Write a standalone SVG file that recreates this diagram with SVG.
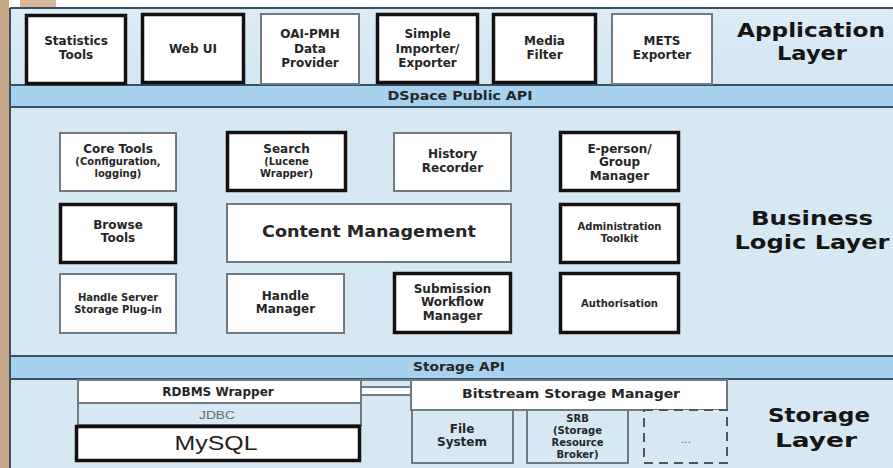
<svg xmlns="http://www.w3.org/2000/svg" width="893" height="468" viewBox="0 0 893 468">
<defs>
<style>
.bg{fill:#d5e8f4}
.bar{fill:#a8d1ee}
.frame{stroke:#3b4f5e;stroke-width:2;fill:none}
.thin{fill:#fff;stroke:#6f7a82;stroke-width:2}
.thinb{fill:#d5e8f4;stroke:#6f7a82;stroke-width:2}
.thick{fill:#fff;stroke:#141010;stroke-width:3.5}
.dash{fill:#d5e8f4;stroke:#555;stroke-width:2;stroke-dasharray:9 6}
.t{font-family:"DejaVu Sans","Liberation Sans",sans-serif;font-weight:bold;fill:#262626;text-anchor:middle}
.m{font-size:12px}
.s{font-size:10px}
.h{font-size:19px;fill:#151515}
.b{font-size:11.5px}
.g{font-family:"Liberation Sans",Arial,sans-serif;font-weight:normal;fill:#666;text-anchor:middle}
</style>
<linearGradient id="appg" x1="0" y1="0" x2="0" y2="1">
<stop offset="0" stop-color="#dcecf7"/>
<stop offset="1" stop-color="#d2e6f3"/>
</linearGradient>
</defs>

<!-- page edges -->
<rect x="0" y="0" width="893" height="468" fill="#ffffff"/>
<rect x="0" y="0" width="9" height="468" fill="#c9a887"/>
<rect x="20" y="0" width="36" height="8" fill="#d9b999"/>

<!-- layers -->
<g id="layers">
<rect x="10" y="8" width="883" height="77" fill="url(#appg)"/>
<rect class="bar" x="10" y="85" width="883" height="22"/>
<rect class="bg" x="10" y="107" width="883" height="249"/>
<rect class="bar" x="10" y="356" width="883" height="23"/>
<rect class="bg" x="10" y="379" width="883" height="89"/>
<path class="frame" d="M10 8 H893 M10 85 H893 M10 107 H893 M10 356 H893 M10 379 H893 M10 8 V468"/>
<text class="t b" x="460" y="100" textLength="145" lengthAdjust="spacingAndGlyphs">DSpace Public API</text>
<text class="t b" x="459" y="371" textLength="92" lengthAdjust="spacingAndGlyphs">Storage API</text>
<text class="t h" x="811" y="37" textLength="148" lengthAdjust="spacingAndGlyphs">Application</text>
<text class="t h" x="812" y="60" textLength="70" lengthAdjust="spacingAndGlyphs">Layer</text>
<text class="t h" x="812" y="225" textLength="122" lengthAdjust="spacingAndGlyphs">Business</text>
<text class="t h" x="812" y="249" textLength="155" lengthAdjust="spacingAndGlyphs">Logic Layer</text>
<text class="t h" x="819" y="422" textLength="102" lengthAdjust="spacingAndGlyphs">Storage</text>
<text class="t h" x="816" y="447" textLength="82" lengthAdjust="spacingAndGlyphs">Layer</text>
</g>

<!-- Application layer -->
<g id="statistics-tools">
<rect class="thick" x="26.5" y="15.5" width="99" height="68"/>
<text class="t m" x="76" y="45">Statistics</text>
<text class="t m" x="76" y="58.5">Tools</text>
</g>
<g id="web-ui">
<rect class="thick" x="142.5" y="14.5" width="101" height="68"/>
<text class="t m" x="193" y="53">Web UI</text>
</g>
<g id="oai-pmh">
<rect class="thin" x="261" y="14" width="98" height="70"/>
<text class="t m" x="310" y="38">OAI-PMH</text>
<text class="t m" x="310" y="52.5">Data</text>
<text class="t m" x="310" y="67">Provider</text>
</g>
<g id="simple-importer">
<rect class="thick" x="377.5" y="14.5" width="100" height="68"/>
<text class="t m" x="427.5" y="38">Simple</text>
<text class="t m" x="427.5" y="52.5">Importer/</text>
<text class="t m" x="427.5" y="67">Exporter</text>
</g>
<g id="media-filter">
<rect class="thick" x="493.5" y="14.5" width="102" height="68"/>
<text class="t m" x="544.5" y="45">Media</text>
<text class="t m" x="544.5" y="58.5">Filter</text>
</g>
<g id="mets-exporter">
<rect class="thin" x="612" y="14" width="100" height="70"/>
<text class="t m" x="662" y="45">METS</text>
<text class="t m" x="662" y="58.5">Exporter</text>
</g>

<!-- Business logic layer -->
<g id="core-tools">
<rect class="thin" x="60" y="133" width="116" height="58"/>
<text class="t m" x="118" y="152.5">Core Tools</text>
<text class="t s" x="118" y="164.5">(Configuration,</text>
<text class="t s" x="118" y="176.5">logging)</text>
</g>
<g id="search">
<rect class="thick" x="227.5" y="132.5" width="118" height="58"/>
<text class="t m" x="286.5" y="152.5">Search</text>
<text class="t s" x="286.5" y="164.5">(Lucene</text>
<text class="t s" x="286.5" y="176.5">Wrapper)</text>
</g>
<g id="history-recorder">
<rect class="thin" x="394" y="133" width="117" height="58"/>
<text class="t m" x="452.5" y="158">History</text>
<text class="t m" x="452.5" y="172">Recorder</text>
</g>
<g id="eperson-group-manager">
<rect class="thick" x="560.5" y="132.5" width="118" height="58"/>
<text class="t m" x="619.5" y="152.5">E-person/</text>
<text class="t m" x="619.5" y="166">Group</text>
<text class="t m" x="619.5" y="179.5">Manager</text>
</g>
<g id="browse-tools">
<rect class="thick" x="60.5" y="204.5" width="115" height="58"/>
<text class="t m" x="118" y="228.5">Browse</text>
<text class="t m" x="118" y="242">Tools</text>
</g>
<g id="content-management">
<rect class="thin" x="227" y="204" width="284" height="58"/>
<text class="t" x="369" y="237" font-size="16" textLength="214" lengthAdjust="spacingAndGlyphs">Content Management</text>
</g>
<g id="administration-toolkit">
<rect class="thick" x="560.5" y="204.5" width="118" height="58"/>
<text class="t s" x="619.5" y="230">Administration</text>
<text class="t s" x="619.5" y="242">Toolkit</text>
</g>
<g id="handle-server-plugin">
<rect class="thin" x="60" y="274" width="116" height="59"/>
<text class="t s" x="118" y="301">Handle Server</text>
<text class="t s" x="118" y="313">Storage Plug-in</text>
</g>
<g id="handle-manager">
<rect class="thin" x="227" y="274" width="117" height="59"/>
<text class="t m" x="285.5" y="299.5">Handle</text>
<text class="t m" x="285.5" y="313">Manager</text>
</g>
<g id="submission-workflow-manager">
<rect class="thick" x="394.5" y="273.5" width="116" height="59"/>
<text class="t m" x="452.5" y="292.5">Submission</text>
<text class="t m" x="452.5" y="306">Workflow</text>
<text class="t m" x="452.5" y="319.5">Manager</text>
</g>
<g id="authorisation">
<rect class="thick" x="560.5" y="273.5" width="118" height="59"/>
<text class="t s" x="619.5" y="307">Authorisation</text>
</g>

<!-- Storage layer -->
<g id="rdbms-wrapper">
<rect class="thin" x="78" y="380" width="283" height="23" stroke-width="1.5"/>
<text class="t m" x="218" y="396">RDBMS Wrapper</text>
</g>
<g id="jdbc">
<rect class="thinb" x="78" y="403" width="283" height="22" stroke-width="1.5"/>
<text class="g" x="217" y="419" font-size="10.5" textLength="36" lengthAdjust="spacingAndGlyphs">JDBC</text>
</g>
<g id="mysql">
<rect class="thick" x="76.5" y="426.5" width="283" height="34"/>
<text x="216" y="450" font-family="'Liberation Sans',Arial,sans-serif" font-size="20" fill="#1e1e1e" text-anchor="middle" textLength="83" lengthAdjust="spacingAndGlyphs">MySQL</text>
</g>
<g id="connectors">
<rect class="thinb" x="361" y="380" width="50" height="7" stroke-width="1.5"/>
<rect class="thin" x="361" y="387" width="51" height="8" stroke-width="1.5"/>
</g>
<g id="bitstream-storage-manager">
<rect class="thin" x="411" y="380" width="316" height="30" stroke-width="1.5"/>
<text class="t m" x="571" y="398" textLength="218" lengthAdjust="spacingAndGlyphs">Bitstream Storage Manager</text>
</g>
<g id="file-system">
<rect class="thinb" x="412" y="410" width="101" height="53"/>
<text class="t m" x="462" y="432.5">File</text>
<text class="t m" x="462" y="446">System</text>
</g>
<g id="srb">
<rect class="thinb" x="527" y="410" width="101" height="53"/>
<text class="t s" x="577.5" y="421.5">SRB</text>
<text class="t s" x="577.5" y="433.5">(Storage</text>
<text class="t s" x="577.5" y="445.5">Resource</text>
<text class="t s" x="577.5" y="457.5">Broker)</text>
</g>
<g id="other-storage">
<rect class="dash" x="644" y="410" width="83" height="53"/>
<text class="g" x="686" y="443" font-size="12">...</text>
</g>
</svg>
